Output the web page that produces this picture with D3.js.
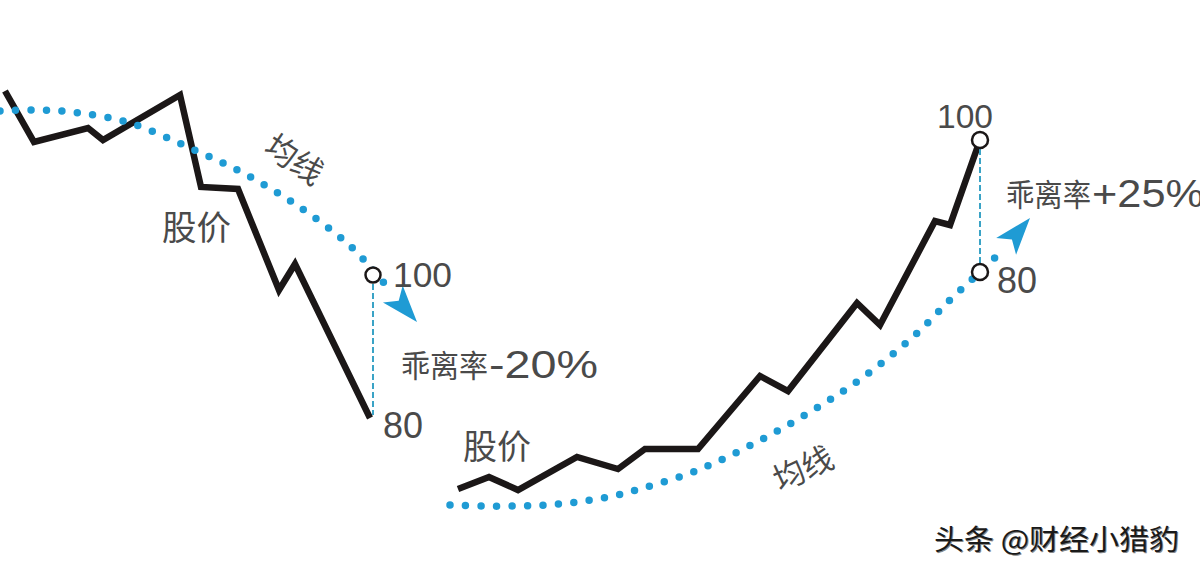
<!DOCTYPE html>
<html><head><meta charset="utf-8">
<script src="https://cdn.jsdelivr.net/npm/d3@7"></script>
<style>html,body{margin:0;background:#fff;}svg{display:block}</style>
</head><body><svg id="c" width="1200" height="570"></svg>
<script>
// ---- data (x = time step, y = level) ----
const leftPrice = [[0.5,95.8],[3.4,85.6],[8.8,88.4],[10.3,86],[18,95],[20.1,76.6],[23.8,76.2],[27.9,56],[29.5,61.2],[37,30.4]];
const leftMA = [[0,91.8],[4,92],[8,91.4],[13,89.4],[19,84.4],[24.5,79.2],[29.8,72.8],[34.7,65.4],[37.3,60],[39.2,55.4]];
const leftArrowTip = [41.7,49.6];
const leftHigh = [37.3,59];
const leftLow = [37.3,31];

const rightPrice = [[45.8,16.2],[48.9,18.6],[51.8,16],[57.7,22.6],[61.8,20.2],[64.5,24.2],[69.8,24.2],[76,38.8],[78.8,35.8],[85.7,53.4],[88,49],[93.5,69.8],[95,69],[98,86]];
const rightMA = [[45,13],[48.3,12.8],[51.7,12.8],[54.7,13],[57.7,13.6],[60.8,14.6],[64,16.2],[69.8,20],[75.5,25.4],[81,31.6],[86.2,38.4],[91.5,47],[95,54],[98,59.6],[100.3,64]];
const rightArrowTip = [103,70.4];
const rightHigh = [98,86];
const rightLow = [98,59.6];

const levelLabels = ["100","80"];
const deviationLabels = ["-20%","+25%"];
const seriesNames = ["股价","均线"];
const deviationName = "乖离率";
const watermark = "头条 @财经小猎豹";

// ---- scales ----
const W=1200,H=570;
const x = d3.scaleLinear().domain([0,120]).range([0,W]);
const y = d3.scaleLinear().domain([0,114]).range([H,0]);
const svg = d3.select("#c");

const priceLine = d3.line().x(d=>x(d[0])).y(d=>y(d[1]));
const maLine = d3.line().x(d=>x(d[0])).y(d=>y(d[1])).curve(d3.curveCatmullRom.alpha(0.5));

const BLACK="#1b1717", BLUE="#1f9bd4", DASH="#3aa3c6", TXT="#4a4a4a";

// price lines
[leftPrice,rightPrice].forEach(p=>{
  svg.append("path").attr("d",priceLine(p)).attr("fill","none")
    .attr("stroke",BLACK).attr("stroke-width",6.5).attr("stroke-linejoin","miter").attr("stroke-miterlimit",6);
});

// dashed verticals
[[leftHigh,leftLow],[rightHigh,rightLow]].forEach(([a,b])=>{
  svg.append("line").attr("x1",x(a[0])).attr("x2",x(b[0]))
    .attr("y1",y(a[1])).attr("y2",y(b[1]))
    .attr("stroke",DASH).attr("stroke-width",2).attr("stroke-dasharray","6 3");
});

// MA dotted lines
[leftMA,rightMA].forEach(p=>{
  svg.append("path").attr("d",maLine(p)).attr("fill","none")
    .attr("stroke",BLUE).attr("stroke-width",7.5).attr("stroke-linecap","round")
    .attr("stroke-dasharray","0 15.5");
});

// arrowheads
function arrow(base,tip){
  const bx=x(base[0]),by=y(base[1]),tx=x(tip[0]),ty=y(tip[1]);
  const dx=tx-bx,dy=ty-by,L=Math.hypot(dx,dy),ux=dx/L,uy=dy/L,px=-uy,py=ux;
  const len=37,half=13,notch=9;
  const wx=tx-ux*len,wy=ty-uy*len;
  const pts=[[tx,ty],[wx+px*half,wy+py*half],[wx+ux*notch,wy+uy*notch],[wx-px*half,wy-py*half]];
  svg.append("path").attr("d","M"+pts.map(q=>q.join(",")).join("L")+"Z").attr("fill",BLUE);
}
arrow(leftMA[leftMA.length-1],leftArrowTip);
arrow(rightMA[rightMA.length-1],rightArrowTip);

// circles
[[leftHigh,7.5],[rightHigh,8],[rightLow,8]].forEach(([p,r])=>{
  svg.append("circle").attr("cx",x(p[0])).attr("cy",y(p[1])).attr("r",r)
    .attr("fill","#fff").attr("stroke",BLACK).attr("stroke-width",2.5);
});

// text helpers
const CJK='"Noto Sans CJK SC","Noto Sans CJK JP",sans-serif';
const NUM='"Liberation Sans","DejaVu Sans",sans-serif';
function txt(s,px,py,opt){
  const t=svg.append("text").attr("x",px).attr("y",py).text(s)
    .attr("font-family",opt.num?NUM:CJK).attr("font-size",opt.size)
    .attr("fill",opt.fill||TXT).attr("text-anchor",opt.anchor||"start");
  if(opt.len) t.attr("textLength",opt.len).attr("lengthAdjust","spacingAndGlyphs");
  if(opt.rot!==undefined) t.attr("transform",`rotate(${opt.rot},${px},${py})`);
  return t;
}

// left level labels
txt(levelLabels[0], x(leftHigh[0])+20, y(leftHigh[1])+12, {num:1,size:35,len:59});
txt(levelLabels[1], x(leftLow[0])+10, y(leftLow[1])+23, {num:1,size:36,len:40});
// right level labels
txt(levelLabels[0], x(rightHigh[0])-43, y(rightHigh[1])-12, {num:1,size:33,len:56});
txt(levelLabels[1], x(rightLow[0])+17, y(rightLow[1])+21, {num:1,size:36,len:40});

// deviation labels
txt(deviationName, 401, 377, {size:31,len:87});
txt(deviationLabels[0], 489, 378, {num:1,size:38,len:109});
txt(deviationName, 1006, 206, {size:31,len:85});
txt(deviationLabels[1], 1092, 207, {num:1,size:38,len:112});

// series names
txt(seriesNames[0], 162, 240, {size:34,len:69});
txt(seriesNames[0], 463, 459, {size:34,len:68});
txt(seriesNames[1], 288, 169, {size:32,anchor:"middle",rot:34,len:62});
txt(seriesNames[1], 808, 479, {size:32,anchor:"middle",rot:-25,len:62});

// watermark
txt(watermark, 934, 550, {size:28,len:245,fill:"#888"}).attr("transform","translate(1,1)");
txt(watermark, 934, 550, {size:28,len:245,fill:"#1a1a1a"});
</script></body></html>
